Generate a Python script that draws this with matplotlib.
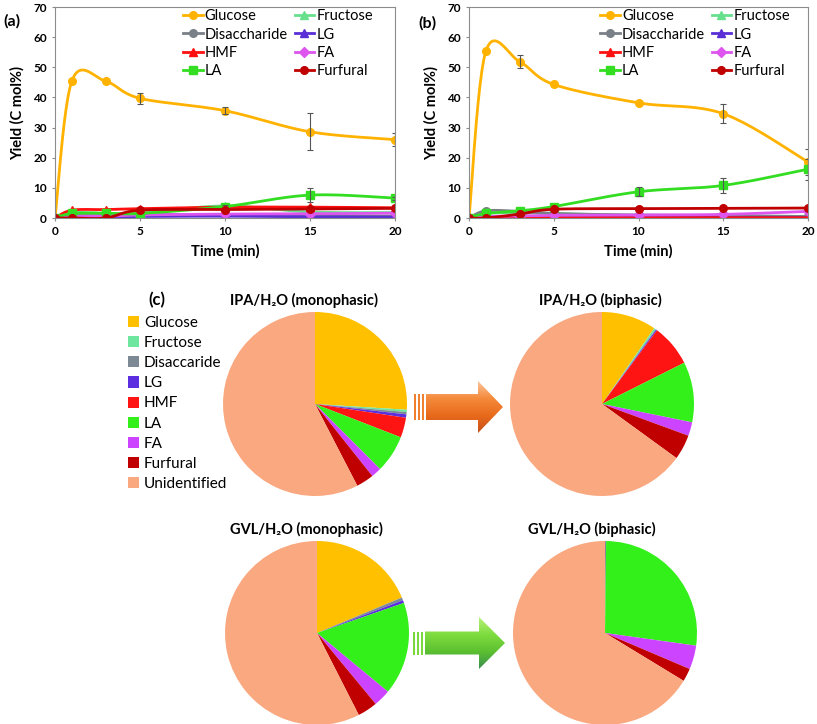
import numpy as np
import matplotlib
matplotlib.use("Agg")
import matplotlib.pyplot as plt
from matplotlib.patches import Patch, Polygon, Rectangle
from matplotlib.lines import Line2D
from matplotlib.colors import LinearSegmentedColormap

plt.rcParams['font.family'] = ['Lato', 'DejaVu Sans']

# ---------------- data ----------------
time_min = [0, 1, 3, 5, 10, 15, 20]

# panel (a) IPA/H2O monophasic
glucose_a = [0, 45.6, 45.3, 39.7, 35.6, 28.6, 26.0]
fructose_a = [0, 1.8, 1.5, 1.6, 4.0, 2.0, 1.8]
disacc_a = [0, 0.8, 0.8, 1.2, 1.0, 0.8, 0.6]
lg_a = [0, 0.3, 0.3, 0.5, 0.6, 0.4, 0.3]
hmf_a = [0, 2.6, 2.8, 3.1, 3.6, 3.6, 3.4]
fa_a = [0, 0.5, 0.6, 1.0, 1.3, 1.4, 1.6]
la_a = [0, 1.5, 1.6, 1.5, 3.8, 7.6, 6.6]
furfural_a = [0, 0.0, 0.0, 2.6, 2.8, 3.0, 3.2]
glucose_a_err = [0, 0, 0, 1.9, 1.1, 6.2, 2.2]
la_a_err = [0, 0, 0, 0, 0.5, 2.3, 0.5]

# panel (b) IPA/H2O biphasic
glucose_b = [0, 55.4, 51.8, 44.3, 38.2, 34.6, 18.6]
fructose_b = [0, 1.5, 1.8, 1.5, 0.8, 0.6, 0.5]
disacc_b = [0, 2.4, 2.2, 1.5, 1.0, 0.8, 0.5]
lg_b = [0, 0.3, 0.3, 0.3, 0.2, 0.2, 0.2]
hmf_b = [0, 0.1, 0.1, 0.1, 0.1, 0.1, 0.1]
fa_b = [0, 0.5, 0.7, 0.9, 1.0, 1.2, 2.2]
la_b = [0, 1.5, 2.4, 3.8, 8.7, 10.8, 16.2]
furfural_b = [0, 0.0, 1.3, 2.9, 3.1, 3.2, 3.3]
glucose_b_err = [0, 0, 2.2, 0, 0, 3.2, 4.2]
la_b_err = [0, 0, 0, 0, 1.5, 2.5, 3.5]

# panel (c) pies
pie_labels = ['Glucose', 'Fructose', 'Disaccaride', 'LG', 'HMF', 'LA', 'FA',
              'Furfural', 'Unidentified']
ipa_mono = [26.0, 0.4, 0.4, 0.6, 3.5, 6.6, 1.8, 3.1, 57.6]
ipa_bi = [9.6, 0.3, 0.1, 0.2, 7.4, 10.6, 2.4, 4.4, 65.0]
gvl_mono = [18.7, 0.0, 0.5, 0.5, 0.0, 16.3, 3.0, 3.5, 57.5]
gvl_bi = [0.0, 0.0, 0.2, 0.0, 0.0, 27.0, 4.2, 2.3, 66.3]

pie_colors = ['#FFC000', '#6EE6A0', '#7D8A96', '#5B2EE0', '#FF1414',
              '#33F01A', '#CC44FF', '#C00000', '#F9A880']

# line styles per series: (color, marker)
series_style = {
    'Glucose': ('#FFB300', 'o'),
    'Fructose': ('#66E08C', '^'),
    'Disaccharide': ('#7A8088', 'o'),
    'LG': ('#5A2FD6', '^'),
    'HMF': ('#FF1010', '^'),
    'FA': ('#DD55EE', 'D'),
    'LA': ('#33DD22', 's'),
    'Furfural': ('#C00000', 'o'),
}


def smooth(x, y, n=24):
    # Excel-like smoothed line through the points (bezier, 1/6 tension)
    pts = np.column_stack([x, y]).astype(float)
    out = [pts[0]]
    s = np.linspace(0, 1, n)[1:, None]
    for i in range(len(pts) - 1):
        p0 = pts[max(i - 1, 0)]
        p1 = pts[i]
        p2 = pts[i + 1]
        p3 = pts[min(i + 2, len(pts) - 1)]
        c1 = p1 + (p2 - p0) / 6
        c2 = p2 - (p3 - p1) / 6
        seg = (1 - s) ** 3 * p1 + 3 * (1 - s) ** 2 * s * c1 + 3 * (1 - s) * s ** 2 * c2 + s ** 3 * p2
        out.extend(seg)
    return np.array(out)


def line_panel(ax, data, errs, leg_x):
    for name, vals in data.items():
        color, marker = series_style[name]
        curve = smooth(time_min, vals)
        ax.plot(curve[:, 0], curve[:, 1], color=color, lw=2, solid_capstyle='round')
        ax.plot(time_min, vals, ls='none', marker=marker, color=color, ms=5.5, mec=color)
        if name in errs:
            e = np.array(errs[name])
            m = e > 0
            ax.errorbar(np.array(time_min)[m], np.array(vals)[m], yerr=e[m], fmt='none',
                        ecolor='#555555', elinewidth=0.8, capsize=2.5, capthick=0.8)
    ax.set_xlim(0, 20)
    ax.set_ylim(0, 70)
    ax.set_xticks([0, 5, 10, 15, 20])
    ax.set_yticks(range(0, 71, 10))
    for sp in ax.spines.values():
        sp.set_color('#8C8C8C')
        sp.set_linewidth(0.8)
    ax.tick_params(length=2, color='#8C8C8C', labelsize=8.5, pad=4)
    for lab in ax.get_xticklabels() + ax.get_yticklabels():
        lab.set_fontweight('bold')
    ax.set_xlabel('Time (min)', fontsize=10.5, fontweight='bold', labelpad=5)
    ax.set_ylabel('Yield (C mol%)', fontsize=10.5, fontweight='bold', labelpad=6)
    order = ['Glucose', 'Disaccharide', 'HMF', 'LA', 'Fructose', 'LG', 'FA', 'Furfural']
    handles = [Line2D([], [], color=series_style[k][0], marker=series_style[k][1], lw=2,
                      ms=5.5) for k in order]
    ax.legend(handles, order, ncol=2, loc='upper left', bbox_to_anchor=(leg_x, 1.0),
              frameon=False, fontsize=10.5, handlelength=1.35, handletextpad=0.15,
              columnspacing=0.45, labelspacing=0.3, borderpad=0.15, borderaxespad=0)


fig = plt.figure(figsize=(8.17, 7.24), dpi=100)
W, H = 817, 724


def px_axes(x0, y0, x1, y1):
    return fig.add_axes([x0 / W, 1 - y1 / H, (x1 - x0) / W, (y1 - y0) / H])


ax_a = px_axes(55, 7, 395, 218)
line_panel(ax_a, {'Glucose': glucose_a, 'Fructose': fructose_a, 'Disaccharide': disacc_a,
                  'LG': lg_a, 'HMF': hmf_a, 'FA': fa_a, 'LA': la_a, 'Furfural': furfural_a},
           {'Glucose': glucose_a_err, 'LA': la_a_err}, 0.37)
ax_b = px_axes(469, 7, 808, 218)
line_panel(ax_b, {'Glucose': glucose_b, 'Fructose': fructose_b, 'Disaccharide': disacc_b,
                  'LG': lg_b, 'HMF': hmf_b, 'FA': fa_b, 'LA': la_b, 'Furfural': furfural_b},
           {'Glucose': glucose_b_err, 'LA': la_b_err}, 0.38)

fig.text(3 / W, 1 - 21 / H, '(a)', fontsize=11.5, fontweight='bold', va='center')
fig.text(418 / W, 1 - 23 / H, '(b)', fontsize=11.5, fontweight='bold', va='center')

# overlay axes in pixel coordinates for arrows
ov = fig.add_axes([0, 0, 1, 1], zorder=-1)
ov.set_xlim(0, W)
ov.set_ylim(H, 0)
ov.axis('off')


def grad_arrow(x0, x_head, x_tip, y_mid, shaft_h, head_h, colors, stripe_color):
    verts = [(x0, y_mid - shaft_h / 2), (x_head, y_mid - shaft_h / 2),
             (x_head, y_mid - head_h / 2), (x_tip, y_mid),
             (x_head, y_mid + head_h / 2), (x_head, y_mid + shaft_h / 2),
             (x0, y_mid + shaft_h / 2)]
    poly = Polygon(verts, closed=True, facecolor='none', edgecolor='none')
    ov.add_patch(poly)
    cmap = LinearSegmentedColormap.from_list('g', colors)
    grad = np.linspace(0, 1, 100)[:, None] * np.ones((1, 10))
    im = ov.imshow(grad, cmap=cmap, aspect='auto', origin='upper',
                   extent=[x0, x_tip, y_mid + head_h / 2, y_mid - head_h / 2])
    im.set_clip_path(poly)
    for k in range(3):
        ov.add_patch(Rectangle((x0 - 12 + k * 4, y_mid - shaft_h / 2), 2, shaft_h,
                               facecolor=stripe_color, edgecolor='none'))


grad_arrow(426, 478, 503, 407, 26, 52, ['#FBC49A', '#F58A3C', '#E86A1A', '#C8501A'], '#F08030')
grad_arrow(425, 479, 505, 643, 23, 52, ['#B8F27A', '#7EDC3E', '#5CC030', '#3A8F50'], '#7AD83A')
ov.set_xlim(0, W)
ov.set_ylim(H, 0)

# pies
R = 92


def pie_at(cx, cy, vals, title, tx):
    ax = px_axes(cx - R, cy - R, cx + R, cy + R)
    ax.pie(vals, colors=pie_colors, startangle=90, counterclock=False, radius=1,
           wedgeprops=dict(linewidth=0))
    ax.set_xlim(-1, 1)
    ax.set_ylim(-1, 1)
    ax.set_aspect('equal')
    fig.text(tx / W, 1 - (cy - R - 12) / H, title, ha='center', va='center',
             fontsize=10.5, fontweight='bold')


pie_at(315, 404, ipa_mono, 'IPA/H\u2082O (monophasic)', 304)
pie_at(602, 404, ipa_bi, 'IPA/H\u2082O (biphasic)', 600)
pie_at(317, 633, gvl_mono, 'GVL/H\u2082O (monophasic)', 306)
pie_at(605, 633, gvl_bi, 'GVL/H\u2082O (biphasic)', 592)

fig.text(157 / W, 1 - 300 / H, '(c)', fontsize=12, fontweight='bold', ha='center', va='center')
pie_handles = [Patch(facecolor=c, edgecolor='none') for c in pie_colors]
fig.legend(pie_handles, pie_labels, loc='upper left', bbox_to_anchor=(128 / W, 1 - 316 / H),
           frameon=False, fontsize=11, handlelength=0.75, handleheight=0.75,
           handletextpad=0.3, labelspacing=0.4, borderpad=0, borderaxespad=0)

fig.savefig('out.png', dpi=100)
